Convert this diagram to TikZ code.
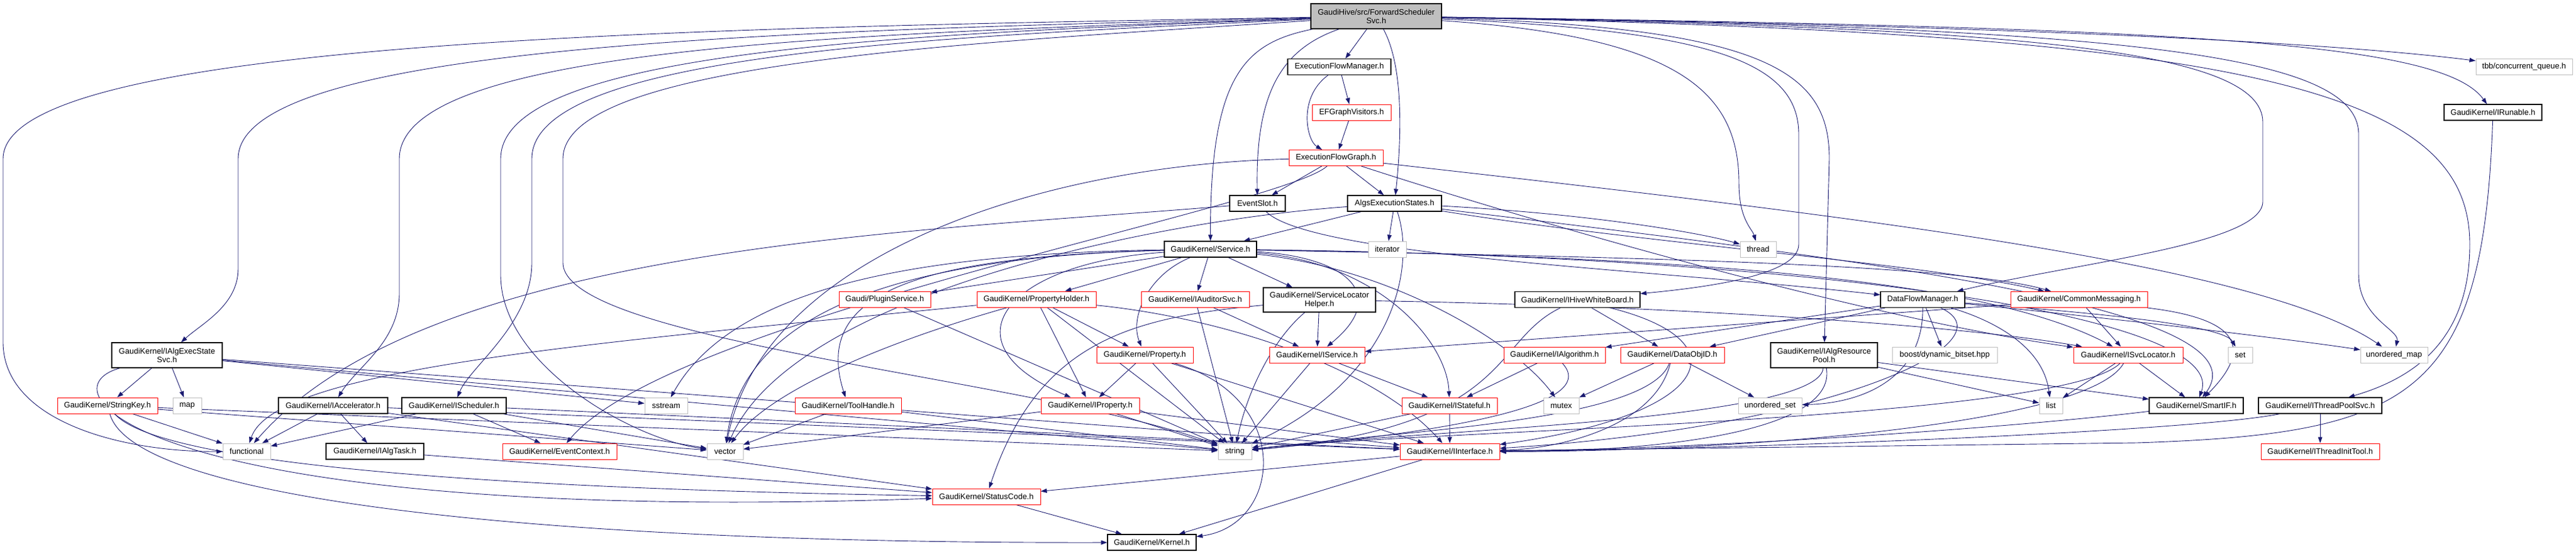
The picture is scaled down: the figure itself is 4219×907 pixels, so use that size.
\documentclass[tikz,border=0pt]{standalone}
\usepackage{fontspec}
\setmainfont{Liberation Sans}
\usetikzlibrary{arrows.meta,backgrounds}
\definecolor{edgeblue}{HTML}{191970}
\definecolor{boxgray}{HTML}{BFBFBF}

\begin{document}
\begin{tikzpicture}[x=1pt,y=-1pt,
    box/.style={rectangle, fill=white, minimum height=26pt, inner sep=2pt, align=center,
      font=\fontsize{13}{14}\selectfont},
    fileblack/.style={box, draw=black, line width=1.2pt},
    filered/.style={box, draw=red, line width=1pt},
    filegray/.style={box, draw=boxgray, line width=1pt},
    mainfile/.style={box, draw=black, fill=boxgray, line width=1.2pt, minimum height=41pt},
    incl/.style={draw=edgeblue, line width=0.9pt, -{Triangle[length=10pt,width=7pt]}}]
  \useasboundingbox (0,0) rectangle (4219,907);

  \node[mainfile, minimum width=214pt] (main) at (2254,26.5) {GaudiHive/src/ForwardScheduler\\Svc.h};
  \node[fileblack, minimum width=169pt] (flowmgr) at (2193.5,109.5) {ExecutionFlowManager.h};
  \node[filegray, minimum width=158pt] (tbbq) at (4134,109.5) {tbb/concurrent\_queue.h};
  \node[filered, minimum width=129pt] (visitors) at (2213.5,184) {EFGraphVisitors.h};
  \node[fileblack, minimum width=160pt] (runable) at (4083,184) {GaudiKernel/IRunable.h};
  \node[filered, minimum width=154pt] (flowgraph) at (2188,258.5) {ExecutionFlowGraph.h};
  \node[fileblack, minimum width=91pt] (evslot) at (2059.5,333) {EventSlot.h};
  \node[fileblack, minimum width=154pt] (algstates) at (2284,333) {AlgsExecutionStates.h};
  \node[fileblack, minimum width=151pt] (service) at (1982.5,408) {GaudiKernel/Service.h};
  \node[filegray, minimum width=62pt] (iterator) at (2272,408) {iterator};
  \node[filegray, minimum width=59pt] (thread) at (2879.5,408) {thread};

  \node[filered, minimum width=150pt] (plugin) at (1449,490) {Gaudi/PluginService.h};
  \node[filered, minimum width=195pt] (propholder) at (1697.5,490) {GaudiKernel/PropertyHolder.h};
  \node[filered, minimum width=177pt] (auditor) at (1957.5,490) {GaudiKernel/IAuditorSvc.h};
  \node[fileblack, minimum width=184pt, minimum height=40pt] (slhelper) at (2161,491) {GaudiKernel/ServiceLocator\\Helper.h};
  \node[fileblack, minimum width=205pt] (hivewb) at (2583.5,490.5) {GaudiKernel/IHiveWhiteBoard.h};
  \node[fileblack, minimum width=138pt] (dfmgr) at (3149,490.5) {DataFlowManager.h};
  \node[filered, minimum width=224pt] (commsg) at (3405,490.5) {GaudiKernel/CommonMessaging.h};

  \node[fileblack, minimum width=181pt, minimum height=41pt] (execsvc) at (273.5,581.5) {GaudiKernel/IAlgExecState\\Svc.h};
  \node[filered, minimum width=158pt] (property) at (1875,581) {GaudiKernel/Property.h};
  \node[filered, minimum width=156pt] (iservice) at (2157,581) {GaudiKernel/IService.h};
  \node[filered, minimum width=166pt] (ialgo) at (2546,581) {GaudiKernel/IAlgorithm.h};
  \node[filered, minimum width=170pt] (dataobj) at (2739,581) {GaudiKernel/DataObjID.h};
  \node[fileblack, minimum width=175pt, minimum height=41pt] (respool) at (2987.5,581.5) {GaudiKernel/IAlgResource\\Pool.h};
  \node[filegray, minimum width=172pt] (bitset) at (3185,581) {boost/dynamic\_bitset.hpp};
  \node[filered, minimum width=179pt] (svcloc) at (3485.5,581) {GaudiKernel/ISvcLocator.h};
  \node[filegray, minimum width=40pt] (set) at (3669,581) {set};
  \node[filegray, minimum width=110pt] (umap) at (3921,581) {unordered\_map};

  \node[filered, minimum width=164pt] (strkey) at (176,664) {GaudiKernel/StringKey.h};
  \node[filegray, minimum width=47pt] (map) at (306.5,664) {map};
  \node[fileblack, minimum width=179pt] (accel) at (545.5,664) {GaudiKernel/IAccelerator.h};
  \node[fileblack, minimum width=171pt] (sched) at (743.5,664) {GaudiKernel/IScheduler.h};
  \node[filegray, minimum width=70pt] (sstream) at (1091,664) {sstream};
  \node[filered, minimum width=174pt] (toolh) at (1389,664) {GaudiKernel/ToolHandle.h};
  \node[filered, minimum width=161pt] (iprop) at (1785.5,664) {GaudiKernel/IProperty.h};
  \node[filered, minimum width=156pt] (stateful) at (2374,664) {GaudiKernel/IStateful.h};
  \node[filegray, minimum width=58pt] (mutex) at (2557,664) {mutex};
  \node[filegray, minimum width=104pt] (uset) at (2899,664) {unordered\_set};
  \node[filegray, minimum width=38pt] (list) at (3359,664) {list};
  \node[fileblack, minimum width=154pt] (smartif) at (3597,664) {GaudiKernel/SmartIF.h};
  \node[fileblack, minimum width=202pt] (tpool) at (3800,664) {GaudiKernel/IThreadPoolSvc.h};

  \node[filegray, minimum width=78pt] (functional) at (404,739) {functional};
  \node[fileblack, minimum width=160pt] (algtask) at (614,739) {GaudiKernel/IAlgTask.h};
  \node[filered, minimum width=187pt] (evctx) at (916.5,739) {GaudiKernel/EventContext.h};
  \node[filegray, minimum width=59pt] (vector) at (1187.5,739) {vector};
  \node[filegray, minimum width=55pt] (string) at (2022.5,739) {string};
  \node[filered, minimum width=163pt] (iiface) at (2374.5,739) {GaudiKernel/IInterface.h};
  \node[filered, minimum width=194pt] (tinit) at (3800,739) {GaudiKernel/IThreadInitTool.h};
  \node[filered, minimum width=177pt] (statuscode) at (1615.5,813) {GaudiKernel/StatusCode.h};
  \node[fileblack, minimum width=145pt] (kernel) at (1886.5,888) {GaudiKernel/Kernel.h};

  \begin{scope}[on background layer]
    \fill[white] (0,0) rectangle (4219,907);

    \draw[incl] (main) .. controls (1200,45) and (5,60) .. (5,260) -- (5,560) .. controls (5,690) and (200,740) .. (functional);
    \draw[incl] (main) .. controls (1300,50) and (390,70) .. (390,260) -- (390,440) .. controls (390,500) and (330,530) .. (execsvc);
    \draw[incl] (main) .. controls (1400,55) and (654,75) .. (654,260) -- (654,480) .. controls (654,560) and (585,600) .. (accel);
    \draw[incl] (main) .. controls (1500,55) and (820,80) .. (820,260) -- (820,450) .. controls (820,600) and (1040,720) .. (vector);
    \draw[incl] (main) .. controls (1550,60) and (871,85) .. (871,260) -- (871,430) .. controls (871,530) and (770,600) .. (sched);
    \draw[incl] (main) .. controls (1600,70) and (922,100) .. (922,260) -- (922,430) .. controls (922,560) and (1700,620) .. (string);
    \draw[incl] (main) .. controls (2040,70) and (1982,120) .. (service);
    \draw[incl] (main) .. controls (2100,80) and (2056,150) .. (evslot);
    \draw[incl] (main) -- (flowmgr);
    \draw[incl] (main) .. controls (2300,110) and (2295,230) .. (algstates);
    \draw[incl] (main) .. controls (2750,60) and (2848,150) .. (2848,300) .. controls (2848,360) and (2870,375) .. (thread);
    \draw[incl] (main) .. controls (2800,50) and (2946,100) .. (2946,220) -- (2946,400) .. controls (2946,450) and (2800,470) .. (hivewb);
    \draw[incl] (main) .. controls (2900,45) and (2996,120) .. (2996,260) -- (respool);
    \draw[incl] (main) .. controls (3300,45) and (3706,80) .. (3706,200) -- (3706,330) .. controls (3706,400) and (3400,430) .. (dfmgr);
    \draw[incl] (main) .. controls (3500,45) and (3863,90) .. (3863,220) -- (3863,450) .. controls (3863,520) and (3930,540) .. (umap);
    \draw[incl] (main) .. controls (3500,45) and (3900,80) .. (tbbq);
    \draw[incl] (main) .. controls (3600,45) and (4000,70) .. (runable);
    \draw[incl] (main) .. controls (3700,55) and (4045,150) .. (4045,400) .. controls (4045,560) and (3950,620) .. (tpool);

    \draw[incl] (flowmgr) -- (visitors);
    \draw[incl] (flowmgr) .. controls (2125,160) and (2140,230) .. (flowgraph);
    \draw[incl] (visitors) -- (flowgraph);
    \draw[incl] (flowgraph) -- (evslot);
    \draw[incl] (flowgraph) -- (algstates);
    \draw[incl] (flowgraph) .. controls (1700,270) and (1250,420) .. (vector);
    \draw[incl] (flowgraph) .. controls (2100,340) and (1100,520) .. (evctx);
    \draw[incl] (flowgraph) .. controls (2500,360) and (3050,520) .. (svcloc);
    \draw[incl] (flowgraph) .. controls (3000,350) and (3700,430) .. (umap);

    \draw[incl] (evslot) .. controls (1500,380) and (700,400) .. (functional);
    \draw[incl] (evslot) .. controls (2150,420) and (2700,440) .. (dfmgr);
    \draw[incl] (algstates) -- (service);
    \draw[incl] (algstates) -- (iterator);
    \draw[incl] (algstates) .. controls (2600,350) and (2780,380) .. (thread);
    \draw[incl] (algstates) .. controls (2320,440) and (2280,620) .. (string);
    \draw[incl] (algstates) .. controls (2700,400) and (3150,430) .. (commsg);
    \draw[incl] (algstates) .. controls (3000,420) and (3720,500) .. (smartif);
    \draw[incl] (algstates) .. controls (1900,360) and (1300,480) .. (vector);

    \draw[incl] (service) -- (plugin);
    \draw[incl] (service) -- (propholder);
    \draw[incl] (service) -- (auditor);
    \draw[incl] (service) -- (slhelper);
    \draw[incl] (service) .. controls (2200,420) and (2280,480) .. (iservice);
    \draw[incl] (service) .. controls (2260,430) and (2370,560) .. (stateful);
    \draw[incl] (service) .. controls (2280,440) and (2480,560) .. (mutex);
    \draw[incl] (service) .. controls (1880,450) and (1850,520) .. (property);
    \draw[incl] (service) .. controls (1650,430) and (1540,560) .. (iprop);
    \draw[incl] (service) .. controls (1500,420) and (1330,480) .. (toolh);
    \draw[incl] (service) .. controls (1500,415) and (1200,470) .. (sstream);
    \draw[incl] (service) .. controls (1500,420) and (1220,500) .. (vector);
    \draw[incl] (service) .. controls (2600,420) and (3200,430) .. (commsg);
    \draw[incl] (service) .. controls (2800,420) and (3260,460) .. (svcloc);
    \draw[incl] (service) .. controls (3000,420) and (3650,520) .. (smartif);

    \draw[incl] (plugin) -- (string);
    \draw[incl] (propholder) .. controls (1000,560) and (450,600) .. (functional);
    \draw[incl] (propholder) .. controls (1450,560) and (1260,640) .. (vector);
    \draw[incl] (propholder) -- (property);
    \draw[incl] (propholder) -- (iprop);
    \draw[incl] (propholder) -- (string);
    \draw[incl] (propholder) .. controls (2000,520) and (2250,600) .. (iiface);
    \draw[incl] (auditor) -- (iservice);
    \draw[incl] (auditor) -- (string);
    \draw[incl] (slhelper) -- (iservice);
    \draw[incl] (slhelper) .. controls (2080,560) and (2040,650) .. (string);
    \draw[incl] (slhelper) .. controls (1850,520) and (1700,560) .. (statuscode);
    \draw[incl] (slhelper) .. controls (2700,500) and (3200,530) .. (svcloc);
    \draw[incl] (hivewb) .. controls (2440,560) and (2480,700) .. (string);
    \draw[incl] (hivewb) -- (dataobj);
    \draw[incl] (hivewb) .. controls (2860,560) and (2800,680) .. (iiface);
    \draw[incl] (dfmgr) -- (ialgo);
    \draw[incl] (dfmgr) -- (dataobj);
    \draw[incl] (dfmgr) -- (bitset);
    \draw[incl] (dfmgr) .. controls (3250,520) and (3345,560) .. (list);
    \draw[incl] (dfmgr) .. controls (3400,510) and (3640,530) .. (set);
    \draw[incl] (dfmgr) .. controls (3450,520) and (3750,555) .. (umap);
    \draw[incl] (dfmgr) .. controls (3300,560) and (3000,700) .. (iiface);
    \draw[incl] (dfmgr) .. controls (3150,620) and (3050,660) .. (uset);
    \draw[incl] (commsg) -- (iservice);
    \draw[incl] (commsg) -- (svcloc);
    \draw[incl] (commsg) .. controls (3650,520) and (3700,560) .. (smartif);

    \draw[incl] (execsvc) -- (strkey);
    \draw[incl] (execsvc) -- (map);
    \draw[incl] (execsvc) .. controls (60,640) and (250,860) .. (statuscode);
    \draw[incl] (execsvc) -- (sstream);
    \draw[incl] (execsvc) -- (iiface);
    \draw[incl] (execsvc) -- (string);
    \draw[incl] (property) -- (iprop);
    \draw[incl] (property) -- (string);
    \draw[incl] (property) -- (iiface);
    \draw[incl] (property) .. controls (2120,650) and (2100,860) .. (kernel);
    \draw[incl] (iservice) -- (string);
    \draw[incl] (iservice) -- (stateful);
    \draw[incl] (ialgo) -- (stateful);
    \draw[incl] (ialgo) .. controls (2620,660) and (2400,705) .. (string);
    \draw[incl] (dataobj) -- (mutex);
    \draw[incl] (dataobj) -- (uset);
    \draw[incl] (dataobj) .. controls (2700,690) and (2300,705) .. (string);
    \draw[incl] (dataobj) .. controls (2710,700) and (2550,735) .. (iiface);
    \draw[incl] (respool) -- (list);
    \draw[incl] (respool) -- (smartif);
    \draw[incl] (respool) .. controls (2980,690) and (2300,705) .. (string);
    \draw[incl] (respool) .. controls (3010,710) and (2700,740) .. (iiface);
    \draw[incl] (svcloc) -- (list);
    \draw[incl] (svcloc) -- (smartif);
    \draw[incl] (svcloc) .. controls (3380,690) and (2300,705) .. (string);
    \draw[incl] (svcloc) .. controls (3420,700) and (2800,740) .. (iiface);

    \draw[incl] (strkey) -- (functional);
    \draw[incl] (strkey) -- (vector);
    \draw[incl] (strkey) -- (string);
    \draw[incl] (strkey) .. controls (260,760) and (800,800) .. (statuscode);
    \draw[incl] (strkey) .. controls (220,820) and (900,890) .. (kernel);
    \draw[incl] (accel) -- (functional);
    \draw[incl] (accel) -- (algtask);
    \draw[incl] (accel) -- (statuscode);
    \draw[incl] (accel) -- (iiface);
    \draw[incl] (sched) -- (functional);
    \draw[incl] (sched) -- (evctx);
    \draw[incl] (sched) -- (vector);
    \draw[incl] (sched) -- (iiface);
    \draw[incl] (toolh) -- (vector);
    \draw[incl] (toolh) -- (string);
    \draw[incl] (iprop) -- (vector);
    \draw[incl] (iprop) -- (string);
    \draw[incl] (iprop) -- (iiface);
    \draw[incl] (stateful) -- (iiface);
    \draw[incl] (stateful) -- (string);
    \draw[incl] (smartif) .. controls (3300,700) and (2800,735) .. (iiface);
    \draw[incl] (tpool) -- (tinit);
    \draw[incl] (tpool) .. controls (3600,705) and (2900,735) .. (iiface);
    \draw[incl] (runable) .. controls (4067,650) and (3950,710) .. (3500,725) -- (iiface);

    \draw[incl] (algtask) -- (statuscode);
    \draw[incl] (iiface) -- (statuscode);
    \draw[incl] (iiface) -- (kernel);
    \draw[incl] (statuscode) -- (kernel);
  \end{scope}
\end{tikzpicture}
\end{document}
